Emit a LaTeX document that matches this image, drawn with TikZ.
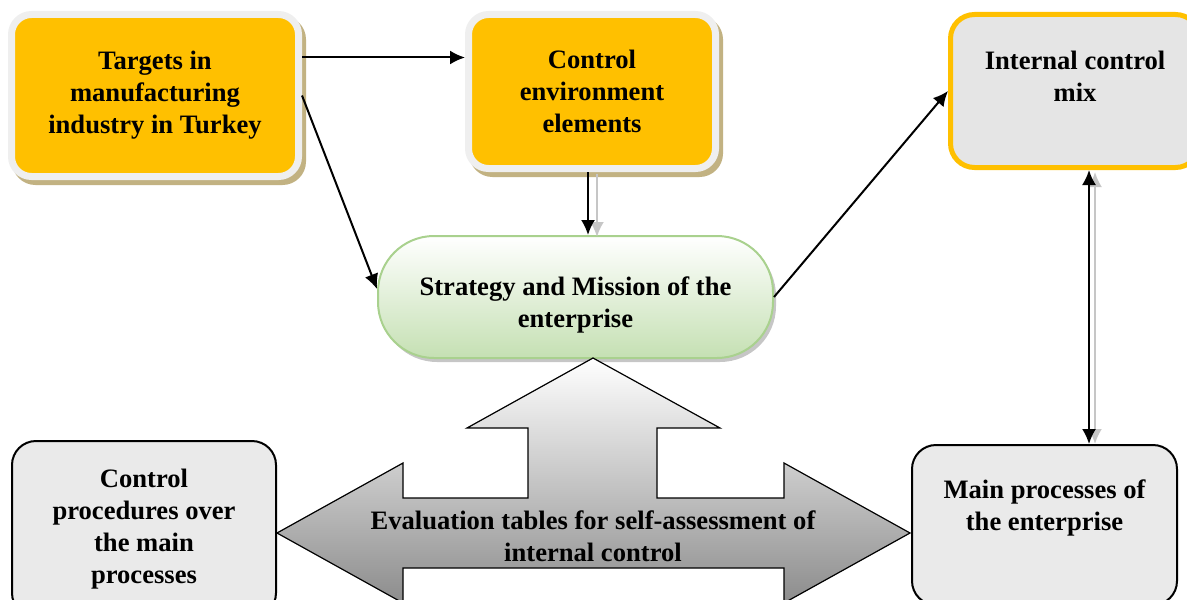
\documentclass[tikz,border=0pt]{standalone}
\usepackage{fontspec}
\setmainfont{Liberation Serif}
\usetikzlibrary{arrows.meta,shadows,shapes,positioning}
\definecolor{boxorange}{HTML}{FFC000}
\definecolor{boxframe}{HTML}{EFEFEF}
\definecolor{boxtan}{HTML}{C2B282}
\definecolor{mixgray}{HTML}{E5E5E5}
\definecolor{stratgreen}{HTML}{C5E0B3}
\definecolor{stratedge}{HTML}{A9D18E}
\definecolor{procgray}{HTML}{EAEAEA}
\tikzset{%
    every node/.style={%
        font=\fontsize{13.3}{16}\selectfont\bfseries, align=center
    },
    orange_block/.style={%
        rectangle, rounded corners=10pt, fill=boxorange, draw=boxframe, line width=3.5pt,
        drop shadow={shadow xshift=2pt, shadow yshift=-2.5pt, fill=boxtan, draw=boxtan, line width=3.5pt, opacity=1}
    },
    mix_block/.style={%
        rectangle, rounded corners=12pt, fill=mixgray, draw=boxorange, line width=2.5pt,
        minimum width=124.5pt, minimum height=76.5pt
    },
    strategy_block/.style={%
        rectangle, rounded corners=28pt, top color=white, bottom color=stratgreen, draw=stratedge, line width=1pt,
        minimum width=197.5pt, minimum height=61pt, text height=33.5pt,
        drop shadow={shadow xshift=1.5pt, shadow yshift=-2pt, fill=gray, opacity=.45}
    },
    process_block/.style={%
        rectangle, rounded corners=12pt, fill=procgray, draw=black, line width=1pt
    },
    flow/.style={%
        -{Latex[length=7.5pt,width=7pt]}, line width=1pt
    },
    flow_shade/.style={%
        flow, draw=gray!45, line width=1.2pt
    },
    both_tips/.style={%
        {Latex[length=7.5pt,width=7pt]}-{Latex[length=7.5pt,width=7pt]}
    },
    eval_arrow/.style={%
        draw=black, line width=0.6pt, top color=white, bottom color=black!45
    },
}
\begin{document}
\begin{tikzpicture}[x=0.5pt, y=-0.5pt]
    \clip (0,0) rectangle (1187,599);

    % top row
    \node[orange_block, minimum width=143.5pt, minimum height=81pt] (targets) at (155,95.5)
        {Targets in\\manufacturing\\industry in Turkey};
    \node[orange_block, minimum width=123.5pt, minimum height=77pt] (envir) at (592,91.5)
        {Control\\environment\\elements};
    \node[mix_block] (mix) at (1075,91) {Internal control\\mix\\[-1pt]\mbox{}};

    % middle
    \node[strategy_block] (strategy) at (575.5,297) {Strategy and Mission of the\\enterprise};

    % bottom row
    \node[process_block, minimum width=132pt, minimum height=88pt] (ctrlproc) at (144,529)
        {Control\\procedures over\\the main\\processes};
    \node[process_block, minimum width=132.5pt, minimum height=80pt] (mainproc) at (1044.5,525)
        {Main processes of\\the enterprise\\[4pt]\mbox{}};

    % big three-way arrow
    \draw[eval_arrow] (593,358) -- (720,428) -- (657,428) -- (657,498) -- (784,498) -- (784,463)
        -- (910,533) -- (784,603) -- (784,568) -- (403,568) -- (403,603) -- (277,533)
        -- (403,463) -- (403,498) -- (528,498) -- (528,428) -- (467,428) -- cycle;
    \node (evaltext) at (593,536.5) {Evaluation tables for self-assessment of\\internal control};

    % connectors
    \draw[flow] ([yshift=19pt]targets.east) -- ([yshift=19pt]targets.east -| envir.west);
    \draw[flow] (targets.east) -- ([yshift=4pt]strategy.west);
    \draw[flow_shade] ([xshift=2.5pt,yshift=-1pt]envir.south) -- ([xshift=2.5pt,yshift=-1pt]envir.south |- strategy.north);
    \draw[flow] ([xshift=-2pt]envir.south) -- ([xshift=-2pt]envir.south |- strategy.north);
    \draw[flow] (strategy.east) -- (mix.west);
    \draw[flow_shade, both_tips]
        ([xshift=10pt,yshift=-1pt]mix.south) -- ([xshift=10pt]mix.south |- mainproc.north);
    \draw[flow, both_tips]
        ([xshift=7pt]mix.south) -- ([xshift=7pt]mix.south |- mainproc.north);
\end{tikzpicture}
\end{document}
